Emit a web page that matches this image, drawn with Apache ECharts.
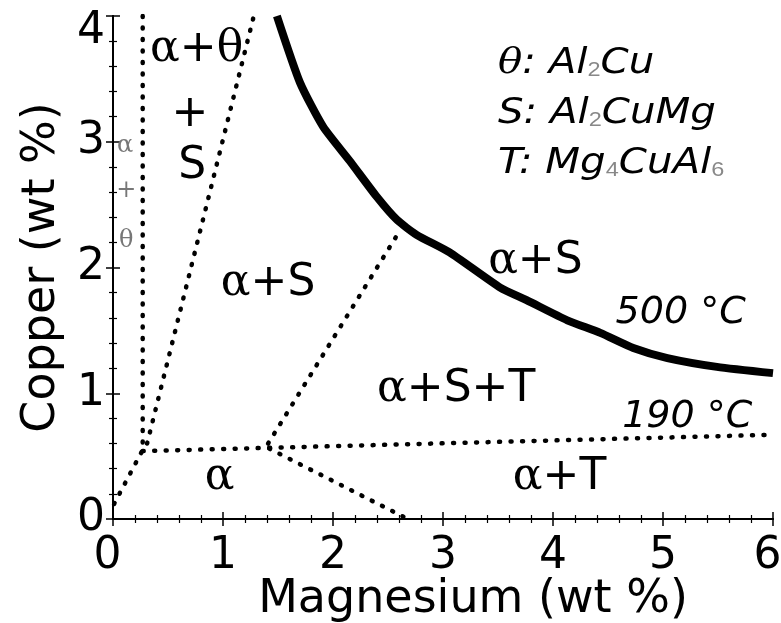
<!DOCTYPE html>
<html><head><meta charset="utf-8">
<script src="https://cdn.jsdelivr.net/npm/echarts@6/dist/echarts.min.js"></script>
<style>html,body{margin:0;padding:0;background:#fff}#c{width:781px;height:623px}</style>
</head><body><div id="c"></div>
<script>
// ---- data ----
const xTicks = [0, 1, 2, 3, 4, 5, 6];
const yTicks = [0, 1, 2, 3, 4];
const curve500X = [1.49, 1.70, 1.91, 2.15, 2.40, 2.58, 2.76, 3.06, 3.52, 3.76, 4.13, 4.43, 4.73, 5.04, 5.49, 6.0];
const curve500Y = [4.0, 3.47, 3.12, 2.85, 2.56, 2.38, 2.26, 2.12, 1.84, 1.74, 1.58, 1.48, 1.36, 1.28, 1.21, 1.16];
const bndVertical = [[0.27, 4.0], [0.27, 0.55]];
const bndOrigin = [[0.01, 0.12], [0.27, 0.55]];
const bndThetaS = [[0.31, 0.60], [1.28, 4.0]];
const bnd190 = [[0.27, 0.54], [6.0, 0.67]];
const bndST = [[1.41, 0.60], [2.62, 2.31]];
const bndT = [[1.42, 0.56], [2.68, 0.0]];
const regionNames = ['{g|α}+{g|θ}', '+', 'S', '{g|α}+S', '{g|α}+S', '{g|α}+S+T', '{g|α}', '{g|α}+T'];
const regionX = [0.76, 0.70, 0.72, 1.41, 3.84, 3.12, 0.97, 4.06];
const regionY = [3.73, 3.22, 2.80, 1.87, 2.05, 1.03, 0.33, 0.33];
const smallNames = ['α', '+', 'θ'];
const smallX = [0.11, 0.12, 0.12];
const smallY = [2.97, 2.61, 2.21];
const tempNames = ['500 °C', '190 °C'];
const tempX = [5.16, 5.22];
const tempY = [1.64, 0.81];
const legendLines = ['{gi|θ}: Al{sub|2}Cu', 'S: Al{sub|2}CuMg', 'T: Mg{sub|4}CuAl{sub|6}'];

const chart = echarts.init(document.getElementById('c'));
const FONT = 'DejaVu Sans';
const SERIF = 'DejaVu Serif';
const dotted = {color: '#000', width: 4.5, type: [1, 10.5], cap: 'round'};
function axisCommon(extra) {
  return Object.assign({
    type: 'value',
    axisLine: {show: true, lineStyle: {color: '#000', width: 2}},
    axisTick: {show: true, inside: true, length: 7, lineStyle: {color: '#000', width: 1.5}},
    minorTick: {show: true, splitNumber: 5, length: 4, lineStyle: {color: '#000', width: 1.2}},
    splitLine: {show: false},
    minorSplitLine: {show: false}
  }, extra);
}
const labelSeries = (names, xs, ys, style) => ({
  type: 'scatter', symbolSize: 0, silent: true, z: 5,
  itemStyle: {opacity: 1, color: '#000'},
  data: names.map((n, i) => ({name: n, value: [xs[i], ys[i]]})),
  label: Object.assign({show: true, position: 'inside', formatter: p => p.name, color: '#000',
    textBorderWidth: 0, fontFamily: FONT}, style)
});
const rich = {g: {fontFamily: SERIF, fontSize: 44, color: '#000'}};
const yMax = yTicks[yTicks.length - 1];
const xEnds = [xTicks[0], xTicks[xTicks.length - 1]];

chart.setOption({
  animation: false,
  grid: {left: 113, right: 8, top: 16, bottom: 104, outerBoundsMode: 'none', containLabel: false},
  xAxis: [
    axisCommon({min: 0, max: 6, interval: 1, position: 'bottom',
      name: 'Magnesium (wt %)', nameLocation: 'middle', nameGap: 58, nameMoveOverlap: false,
      nameTextStyle: {fontFamily: FONT, fontSize: 46, color: '#000', padding: [0, 0, 0, 60]},
      axisLabel: {fontFamily: FONT, fontSize: 44, color: '#000', margin: 16,
        rich: {e: {fontFamily: FONT, fontSize: 44, color: '#000', padding: [0, 11, 0, 0]}},
        formatter: v => xEnds.includes(v) ? '{e|' + v + '}' : (xTicks.includes(v) ? String(v) : '')}}),
    axisCommon({min: 0, max: 6, interval: 1, position: 'top', axisLabel: {show: false}})
  ],
  yAxis: [
    axisCommon({min: 0, max: 4, interval: 1, position: 'left',
      name: 'Copper (wt %)', nameLocation: 'middle', nameGap: 48, nameMoveOverlap: false,
      nameTextStyle: {fontFamily: FONT, fontSize: 46, color: '#000'},
      axisLabel: {fontFamily: FONT, fontSize: 44, color: '#000', margin: 8,
        rich: {top: {fontFamily: FONT, fontSize: 44, color: '#000', padding: [31, 0, 0, 0]}},
        formatter: v => v === yMax ? '{top|' + v + '}' : (yTicks.includes(v) ? String(v) : '')}}),
    axisCommon({min: 0, max: 4, interval: 1, position: 'right', axisLabel: {show: false}})
  ],
  series: [
    {type: 'line', showSymbol: false, symbol: 'none', smooth: 0.2, z: 3,
      data: curve500X.map((x, i) => [x, curve500Y[i]]),
      lineStyle: {color: '#000', width: 8}},
    {type: 'line', symbol: 'none', data: bndVertical, lineStyle: dotted},
    {type: 'line', symbol: 'none', data: bndOrigin, lineStyle: dotted},
    {type: 'line', symbol: 'none', data: bndThetaS, lineStyle: dotted},
    {type: 'line', symbol: 'none', data: bnd190, lineStyle: dotted},
    {type: 'line', symbol: 'none', data: bndST, lineStyle: dotted},
    {type: 'line', symbol: 'none', data: bndT, lineStyle: dotted},
    labelSeries(regionNames, regionX, regionY, {fontSize: 44, rich: rich}),
    labelSeries(smallNames, smallX, smallY, {fontSize: 24, color: '#777', fontFamily: SERIF}),
    labelSeries(tempNames, tempX, tempY, {fontSize: 38, fontStyle: 'italic'})
  ],
  graphic: [{
    type: 'text', x: 498, y: 39, scaleX: 1.12, z: 10,
    style: {
      text: legendLines.join('\n'),
      fontFamily: FONT, fontSize: 36, fontStyle: 'italic', fill: '#000', lineHeight: 50,
      rich: {
        gi: {fontFamily: SERIF, fontStyle: 'italic', fontSize: 36, lineHeight: 50},
        sub: {fontSize: 21, fill: '#888', fontStyle: 'normal', lineHeight: 50, verticalAlign: 'middle', padding: [12, 0, 0, 0]}
      }
    }
  }]
});
</script></body></html>
